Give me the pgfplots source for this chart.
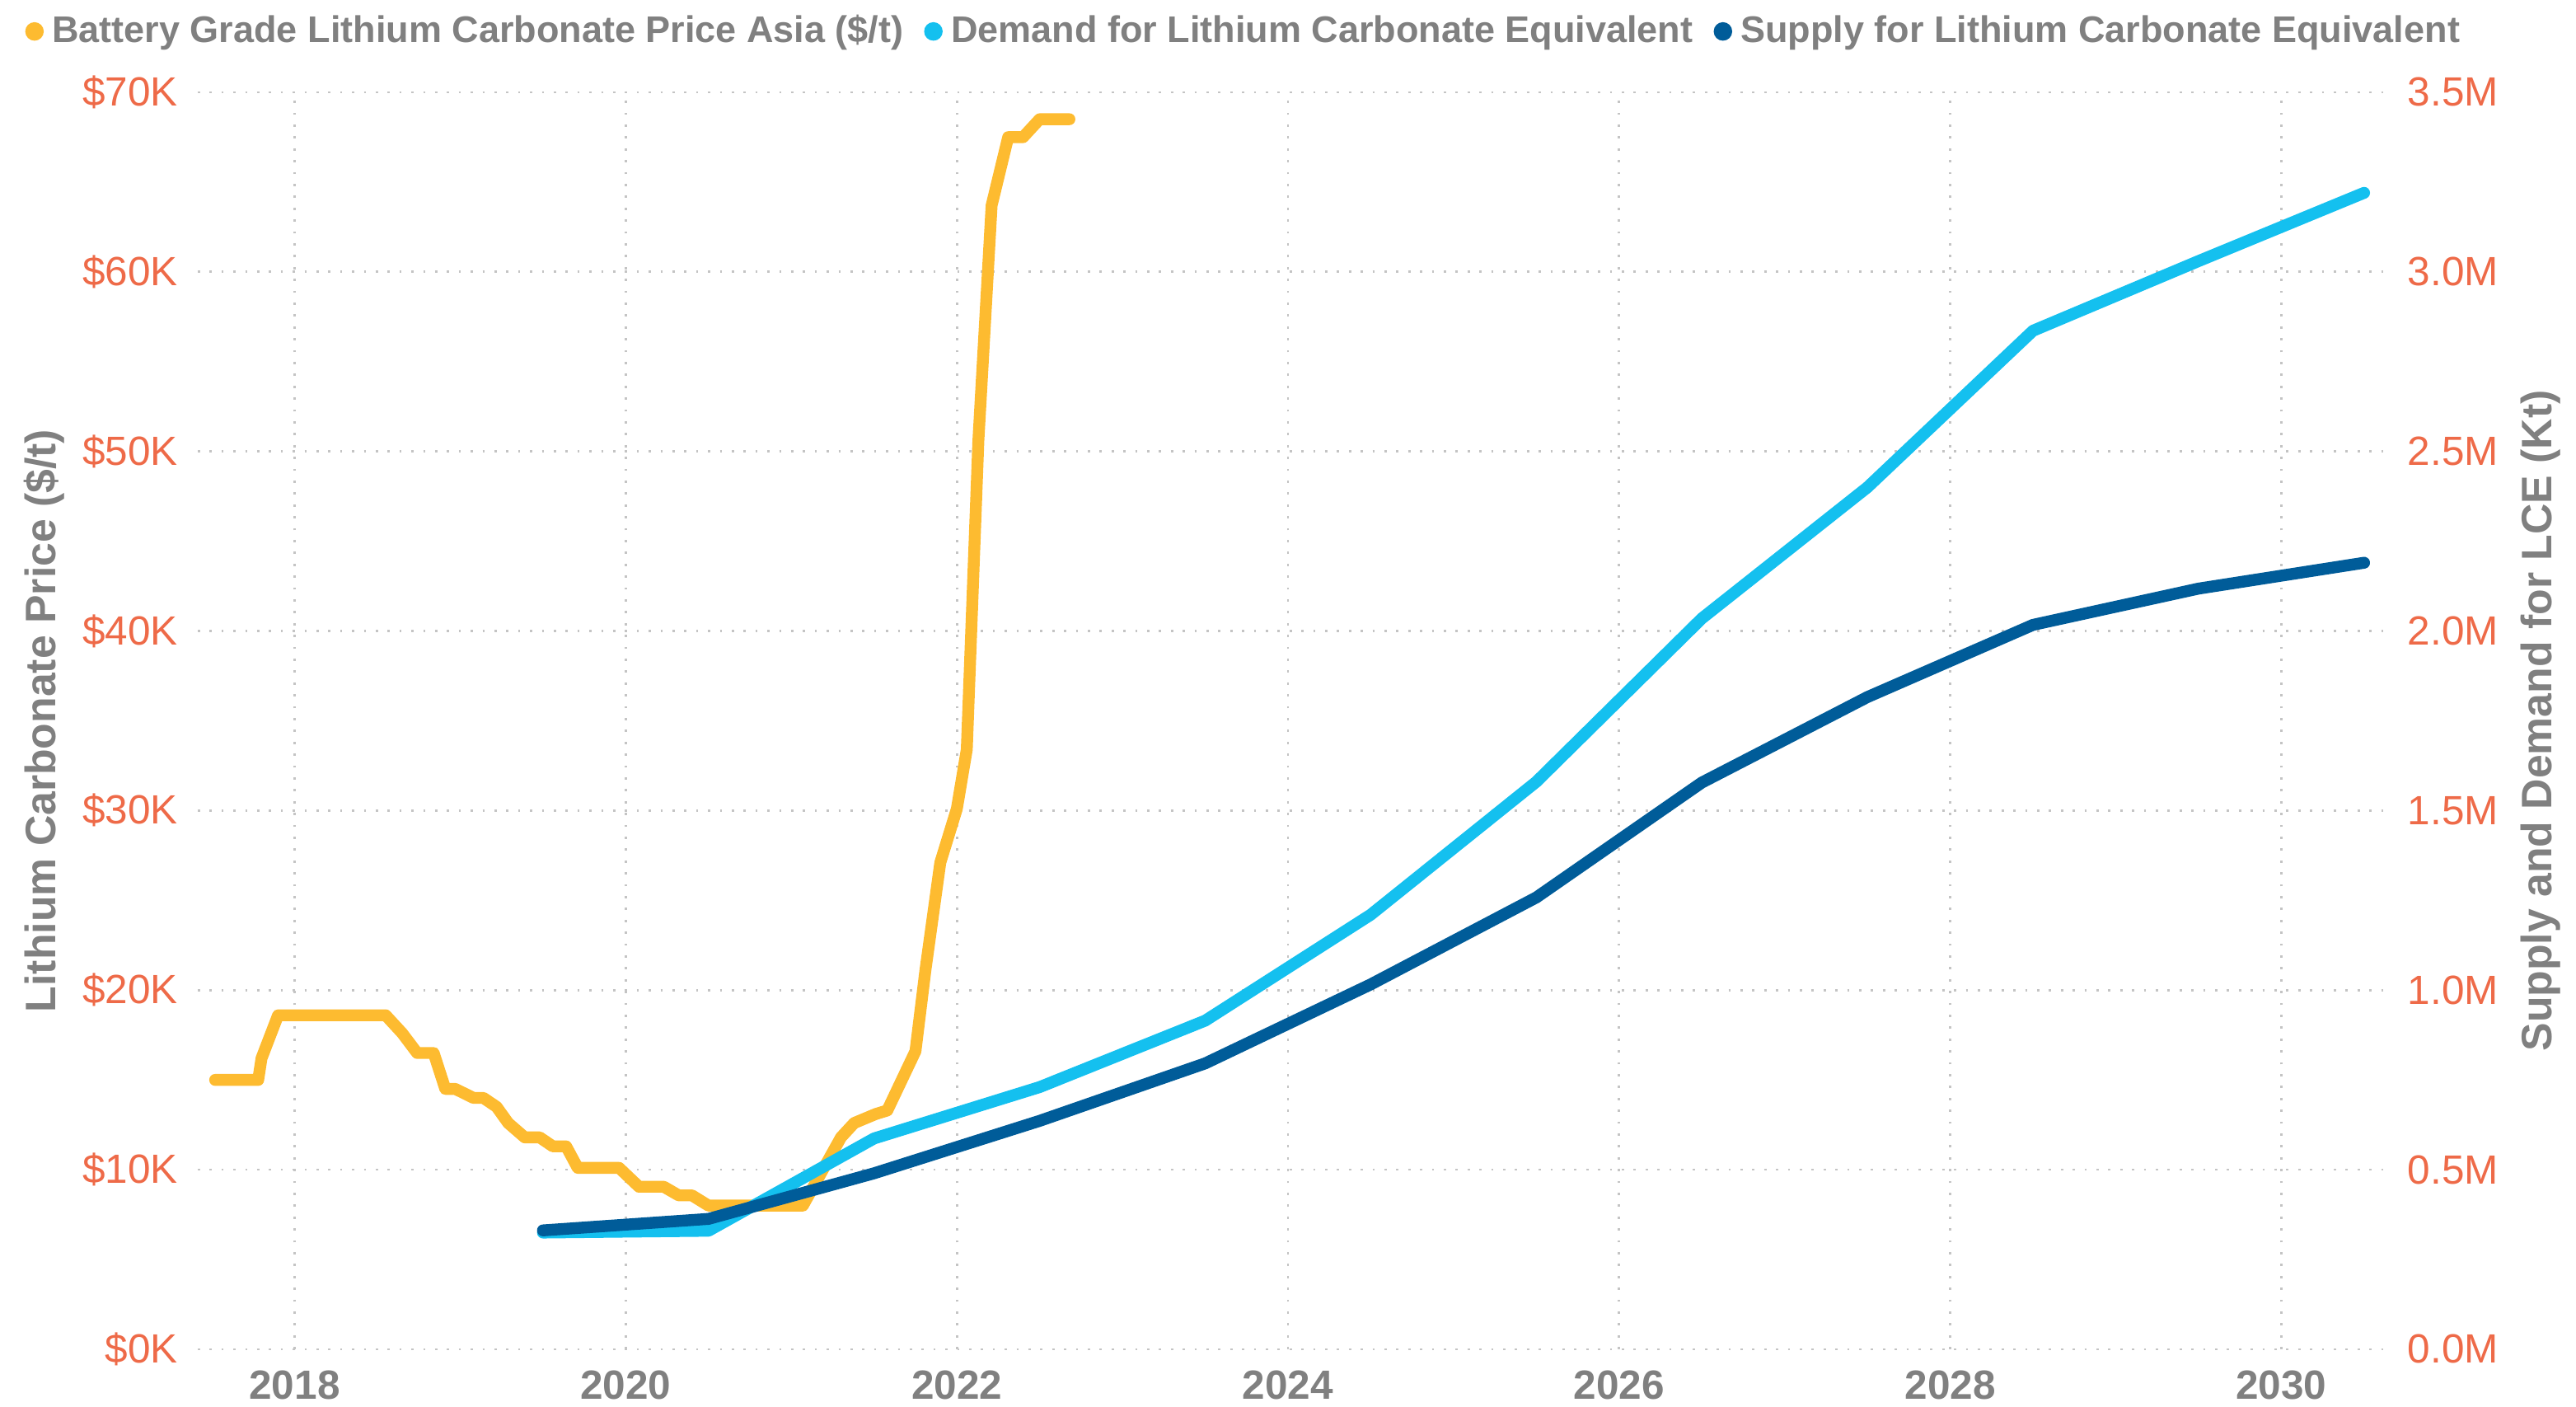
\documentclass[border=0pt]{standalone}
\usepackage{fontspec}
\setmainfont{Liberation Sans}
\usepackage{pgfplots}
\pgfplotsset{compat=1.18}
\definecolor{cyel}{HTML}{FDBB30}
\definecolor{clb}{HTML}{14C0EF}
\definecolor{cdb}{HTML}{005C99}
\definecolor{cor}{HTML}{EE6A48}
\definecolor{cgr}{HTML}{808080}
\definecolor{cgrid}{HTML}{C4C4C4}
\begin{document}
\begin{tikzpicture}
\useasboundingbox (0,0) rectangle (694.67pt,379.33pt);
\begin{axis}[
  at={(53.33pt,15.56pt)}, anchor=south west,
  scale only axis, width=590.44pt, height=338.89pt,
  xmin=2017.415, xmax=2030.64, ymin=0, ymax=70,
  axis line style={draw=none}, tick style={draw=none}, major tick length=0pt,
  grid=major,
  major grid style={cgrid, line width=0.6pt, dash pattern=on 0.6pt off 2.6pt},
  xtick={2018,2020,2022,2024,2026,2028,2030},
  xticklabels={2018,2020,2022,2024,2026,2028,2030},
  ytick={0,10,20,30,40,50,60,70},
  yticklabels={\$0K,\$10K,\$20K,\$30K,\$40K,\$50K,\$60K,\$70K},
  x tick label style={font=\fontsize{11}{13}\selectfont\bfseries, text=cgr, yshift=-2.3pt},
  y tick label style={font=\fontsize{11}{13}\selectfont, text=cor, xshift=-1.8pt},
  ylabel={Lithium Carbonate Price (\$/t)},
  every axis y label/.style={at={(axis description cs:-0.070,0.5)}, rotate=90, anchor=center, font=\fontsize{11.5}{13}\selectfont\bfseries, text=cgr},
]
\addplot[cyel, line width=3.2pt, line cap=round, line join=round] coordinates {
(2017.52,15.0) (2017.78,15.0) (2017.80,16.2) (2017.90,18.6) (2018.55,18.6)
(2018.65,17.6) (2018.74,16.5) (2018.84,16.5) (2018.91,14.5) (2018.97,14.5)
(2019.08,14.0) (2019.14,14.0) (2019.22,13.5) (2019.29,12.6) (2019.39,11.8)
(2019.48,11.8) (2019.56,11.3) (2019.64,11.3) (2019.71,10.1) (2019.96,10.1)
(2020.08,9.05) (2020.23,9.05) (2020.32,8.57) (2020.40,8.57) (2020.50,8.0)
(2021.07,8.0) (2021.30,11.8) (2021.38,12.6) (2021.51,13.1) (2021.58,13.3)
(2021.75,16.6) (2021.81,21.1) (2021.90,27.1) (2022.00,30.1) (2022.06,33.4)
(2022.13,50.6) (2022.21,63.7) (2022.31,67.5) (2022.40,67.5) (2022.50,68.5)
(2022.68,68.5)
};
\end{axis}
\begin{axis}[
  at={(53.33pt,15.56pt)}, anchor=south west,
  scale only axis, width=590.44pt, height=338.89pt,
  xmin=2017.415, xmax=2030.64, ymin=0, ymax=3.5,
  hide x axis, axis y line*=right,
  axis line style={draw=none}, tick style={draw=none}, major tick length=0pt,
  ytick={0,0.5,1,1.5,2,2.5,3,3.5},
  yticklabels={0.0M,0.5M,1.0M,1.5M,2.0M,2.5M,3.0M,3.5M},
  y tick label style={font=\fontsize{11}{13}\selectfont, text=cor, xshift=2pt},
  ylabel={Supply and Demand for LCE (Kt)},
  every axis y label/.style={at={(axis description cs:1.070,0.5)}, rotate=90, anchor=center, font=\fontsize{11.5}{13}\selectfont\bfseries, text=cgr},
  legend columns=3,
  legend image code/.code={\path[fill, draw=none] (2.5pt,0pt) circle (2.5pt);},
  legend style={at={(axis description cs:-0.0788,1.0484)}, anchor=west, draw=none, fill=none,
    inner sep=0pt, outer sep=0pt, nodes={inner sep=0pt},
    font=\fontsize{10}{12}\selectfont\bfseries, text=cgr,
    /tikz/every odd column/.append style={column sep=2.3pt},
    /tikz/every even column/.append style={column sep=5.6pt}},
]
\addlegendimage{cyel}
\addlegendentry{Battery Grade Lithium Carbonate Price Asia (\$/t)}
\addplot[clb, line width=3.2pt, line cap=round, line join=round] coordinates {
(2019.5,0.325) (2020.5,0.33) (2021.5,0.587) (2022.5,0.73) (2023.5,0.915)
(2024.5,1.21) (2025.5,1.58) (2026.5,2.035) (2027.5,2.40) (2028.5,2.836)
(2029.5,3.03) (2030.5,3.22)
};
\addlegendentry{Demand for Lithium Carbonate Equivalent}
\addplot[cdb, line width=3.2pt, line cap=round, line join=round] coordinates {
(2019.5,0.331) (2020.5,0.363) (2021.5,0.49) (2022.5,0.636) (2023.5,0.796)
(2024.5,1.016) (2025.5,1.258) (2026.5,1.578) (2027.5,1.816) (2028.5,2.017)
(2029.5,2.118) (2030.5,2.19)
};
\addlegendentry{Supply for Lithium Carbonate Equivalent}
\end{axis}
\end{tikzpicture}
\end{document}
